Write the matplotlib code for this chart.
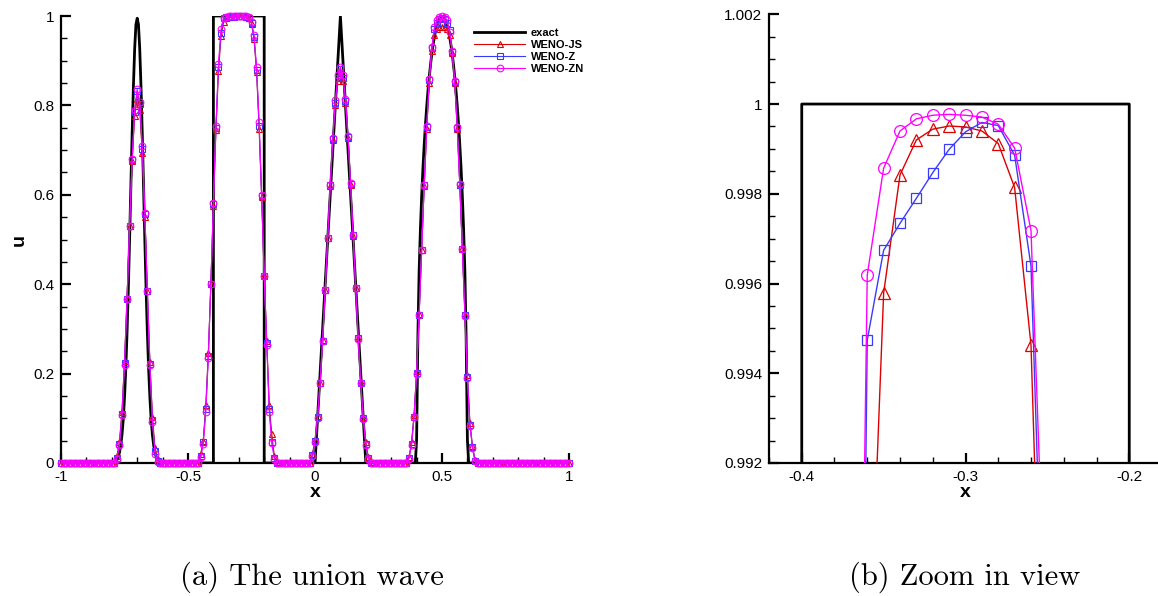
import numpy as np
import matplotlib
matplotlib.use('Agg')
import matplotlib.pyplot as plt
from matplotlib.ticker import MultipleLocator, FixedLocator, FixedFormatter

plt.rcParams['axes.unicode_minus'] = False
plt.rcParams['font.family'] = ['Liberation Sans', 'DejaVu Sans']

# ---------------- data ----------------
# computational grid (dx = 0.01)
x_grid = np.round(np.linspace(-1.0, 1.0, 201), 2)

# exact solution (sampled)
exact_x = ([-1.0] +
           [-0.8, -0.795, -0.79, -0.785, -0.78, -0.775, -0.77, -0.765, -0.76, -0.755,
            -0.75, -0.745, -0.74, -0.735, -0.73, -0.725, -0.72, -0.715, -0.71, -0.705,
            -0.7, -0.695, -0.69, -0.685, -0.68, -0.675, -0.67, -0.665, -0.66, -0.655,
            -0.65, -0.645, -0.64, -0.635, -0.63, -0.625, -0.62, -0.615, -0.61, -0.605, -0.6] +
           [-0.4, -0.4, -0.2, -0.2, 0.0, 0.1, 0.2] +
           [0.395, 0.4, 0.405, 0.41, 0.415, 0.42, 0.425, 0.43, 0.435, 0.44, 0.445, 0.45,
            0.455, 0.46, 0.465, 0.47, 0.475, 0.48, 0.485, 0.49, 0.495, 0.5, 0.505, 0.51,
            0.515, 0.52, 0.525, 0.53, 0.535, 0.54, 0.545, 0.55, 0.555, 0.56, 0.565, 0.57,
            0.575, 0.58, 0.585, 0.59, 0.595, 0.6, 0.605] +
           [1.0])
exact_u = ([0.0] +
           [0.0005, 0.001, 0.0019, 0.0038, 0.0072, 0.013, 0.023, 0.039, 0.0625, 0.097,
            0.146, 0.210, 0.292, 0.389, 0.5, 0.618, 0.735, 0.841, 0.926, 0.981,
            0.995, 0.981, 0.926, 0.841, 0.735, 0.618, 0.5, 0.389, 0.292, 0.210,
            0.146, 0.097, 0.0625, 0.039, 0.023, 0.013, 0.0072, 0.0038, 0.0019, 0.001, 0.0005] +
           [0.0, 1.0, 1.0, 0.0, 0.0, 1.0, 0.0] +
           [0.0, 0.052, 0.281, 0.430, 0.524, 0.598, 0.660, 0.713, 0.759, 0.799, 0.834, 0.865,
            0.892, 0.916, 0.936, 0.953, 0.968, 0.979, 0.988, 0.995, 0.998, 0.9996, 0.998, 0.995,
            0.988, 0.979, 0.968, 0.953, 0.936, 0.916, 0.892, 0.865, 0.834, 0.799, 0.759, 0.713,
            0.660, 0.598, 0.524, 0.430, 0.281, 0.052, 0.0] +
           [0.0])

# WENO-ZN
zn_gauss = [0.010, 0.040, 0.107, 0.219, 0.366, 0.530, 0.679, 0.790, 0.836, 0.808,
            0.709, 0.560, 0.384, 0.219, 0.092, 0.021, 0.003]
zn_square = [0.013, 0.043, 0.114, 0.235, 0.401, 0.582, 0.755, 0.893, 0.970, 0.99619,
             0.99857, 0.99940, 0.99967, 0.99975, 0.99977, 0.99975, 0.99971, 0.99955, 0.99902, 0.99718,
             0.987, 0.957, 0.886, 0.763, 0.599, 0.418, 0.264, 0.114, 0.044, 0.010, 0.001]
zn_tri = [0.016, 0.047, 0.101, 0.178, 0.274, 0.386, 0.504, 0.623, 0.727, 0.811, 0.867, 0.887,
          0.867, 0.815, 0.731, 0.626, 0.510, 0.392, 0.278, 0.179, 0.099, 0.041, 0.010, 0.001]
zn_ell = [0.010, 0.040, 0.102, 0.200, 0.331, 0.476, 0.623, 0.754, 0.860, 0.930, 0.975, 0.992,
          0.998, 1.000, 0.998, 0.990, 0.965, 0.922, 0.855, 0.751, 0.624, 0.478, 0.328, 0.190,
          0.083, 0.034, 0.004]

# WENO-JS
js_gauss = [0.015, 0.047, 0.114, 0.228, 0.370, 0.530, 0.675, 0.776, 0.815, 0.790,
            0.693, 0.550, 0.384, 0.225, 0.103, 0.034, 0.008]
js_square = [0.020, 0.050, 0.129, 0.245, 0.400, 0.575, 0.745, 0.876, 0.955, 0.9863,
             0.99578, 0.99842, 0.99920, 0.99944, 0.99951, 0.99949, 0.99940, 0.99912, 0.99814, 0.99463,
             0.9827, 0.949, 0.875, 0.748, 0.594, 0.420, 0.273, 0.129, 0.064, 0.015, 0.002]
js_tri = [0.020, 0.052, 0.105, 0.180, 0.275, 0.386, 0.504, 0.620, 0.722, 0.800, 0.855, 0.872,
          0.855, 0.805, 0.726, 0.623, 0.508, 0.392, 0.280, 0.182, 0.104, 0.046, 0.013, 0.002]
js_ell = [0.013, 0.046, 0.108, 0.205, 0.333, 0.476, 0.620, 0.748, 0.850, 0.922, 0.958, 0.972,
          0.975, 0.976, 0.975, 0.972, 0.958, 0.918, 0.850, 0.748, 0.622, 0.480, 0.332, 0.196,
          0.090, 0.038, 0.006]

# WENO-Z
z_gauss = [0.012, 0.043, 0.110, 0.223, 0.368, 0.530, 0.678, 0.786, 0.833, 0.804,
           0.703, 0.556, 0.384, 0.222, 0.097, 0.026, 0.005]
z_square = [0.015, 0.047, 0.120, 0.240, 0.400, 0.580, 0.750, 0.885, 0.963, 0.99474,
            0.99674, 0.99734, 0.99790, 0.99847, 0.99899, 0.99938, 0.99959, 0.99952, 0.99886, 0.99639,
            0.985, 0.952, 0.880, 0.755, 0.597, 0.418, 0.268, 0.120, 0.048, 0.012, 0.001]
z_tri = [0.018, 0.049, 0.103, 0.179, 0.274, 0.386, 0.504, 0.622, 0.725, 0.806, 0.862, 0.881,
         0.862, 0.810, 0.729, 0.625, 0.509, 0.392, 0.279, 0.180, 0.101, 0.043, 0.011, 0.001]
z_ell = [0.011, 0.042, 0.104, 0.202, 0.332, 0.476, 0.622, 0.752, 0.856, 0.928, 0.970, 0.985,
         0.993, 0.995, 0.993, 0.985, 0.968, 0.920, 0.853, 0.750, 0.623, 0.479, 0.330, 0.193,
         0.086, 0.036, 0.005]

u_zn = [0.0] * 22 + zn_gauss + [0.0] * 16 + zn_square + [0.0] * 13 + zn_tri + [0.0] * 14 + zn_ell + [0.0] * 37
u_js = [0.0] * 22 + js_gauss + [0.0] * 16 + js_square + [0.0] * 13 + js_tri + [0.0] * 14 + js_ell + [0.0] * 37
u_z = [0.0] * 22 + z_gauss + [0.0] * 16 + z_square + [0.0] * 13 + z_tri + [0.0] * 14 + z_ell + [0.0] * 37

labels = ['exact', 'WENO-JS', 'WENO-Z', 'WENO-ZN']
c_js, c_z, c_zn = '#dd0000', '#3a3aff', '#ff00ff'

# ---------------- figure ----------------
W, H = 1158, 596
fig = plt.figure(figsize=(W / 100, H / 100), dpi=100)

def frac_axes(x0, y_top, x1, y_bot):
    return fig.add_axes([x0 / W, 1 - y_bot / H, (x1 - x0) / W, (y_bot - y_top) / H])

def style(ax):
    for s in ['top', 'right']:
        ax.spines[s].set_visible(False)
    for s in ['left', 'bottom']:
        ax.spines[s].set_linewidth(1.6)
    ax.tick_params(which='major', direction='in', length=7.5, width=1.6, labelsize=11, pad=5)
    ax.tick_params(which='minor', direction='in', length=4.5, width=1.0)

# left panel
ax1 = frac_axes(61, 16, 569, 463)
ax1.plot(exact_x, exact_u, color='black', lw=2.0, label=labels[0], zorder=2)
ax1.plot(x_grid, u_js, color=c_js, lw=0.8, marker='^', ms=4.5, mfc='none', mew=0.8,
         label=labels[1], zorder=3, clip_on=False)
ax1.plot(x_grid, u_z, color=c_z, lw=0.8, marker='s', ms=4.0, mfc='none', mew=0.8,
         label=labels[2], zorder=4, clip_on=False)
ax1.plot(x_grid, u_zn, color=c_zn, lw=0.8, marker='o', ms=4.8, mfc='none', mew=0.8,
         label=labels[3], zorder=5, clip_on=False)
ax1.set_xlim(-1, 1)
ax1.set_ylim(0, 1)
ax1.xaxis.set_major_locator(FixedLocator([-1, -0.5, 0, 0.5, 1]))
ax1.xaxis.set_major_formatter(FixedFormatter(['-1', '-0.5', '0', '0.5', '1']))
ax1.xaxis.set_minor_locator(MultipleLocator(0.1))
ax1.yaxis.set_major_locator(FixedLocator([0, 0.2, 0.4, 0.6, 0.8, 1]))
ax1.yaxis.set_major_formatter(FixedFormatter(['0', '0.2', '0.4', '0.6', '0.8', '1']))
ax1.yaxis.set_minor_locator(MultipleLocator(0.05))
style(ax1)
ax1.set_xlabel('x', fontsize=14, fontweight='bold', labelpad=0)
ax1.set_ylabel('u', fontsize=14, fontweight='bold', labelpad=4)
leg = ax1.legend(loc='upper left', bbox_to_anchor=(474 / W, 1 - 28 / H), bbox_transform=fig.transFigure,
                 frameon=False, prop={'size': 8, 'weight': 'bold'}, handlelength=4.6,
                 handletextpad=0.5, labelspacing=0.18, borderpad=0, borderaxespad=0, numpoints=1)

# right panel
ax2 = frac_axes(769, 14.3, 1162, 463)
ax2.plot(exact_x, exact_u, color='black', lw=2.0, zorder=2)
ax2.plot(x_grid, u_js, color=c_js, lw=1.0, marker='^', ms=8.5, mfc='none', mew=0.9, zorder=3)
ax2.plot(x_grid, u_z, color=c_z, lw=1.0, marker='s', ms=7.2, mfc='none', mew=0.9, zorder=4)
ax2.plot(x_grid, u_zn, color=c_zn, lw=1.0, marker='o', ms=8.5, mfc='none', mew=0.9, zorder=5)
ax2.set_xlim(-0.42, -0.18)
ax2.set_ylim(0.992, 1.002)
ax2.xaxis.set_major_locator(FixedLocator([-0.4, -0.3, -0.2]))
ax2.xaxis.set_major_formatter(FixedFormatter(['-0.4', '-0.3', '-0.2']))
ax2.xaxis.set_minor_locator(MultipleLocator(0.02))
ax2.yaxis.set_major_locator(FixedLocator([0.992, 0.994, 0.996, 0.998, 1.0, 1.002]))
ax2.yaxis.set_major_formatter(FixedFormatter(['0.992', '0.994', '0.996', '0.998', '1', '1.002']))
ax2.yaxis.set_minor_locator(MultipleLocator(0.0005))
style(ax2)
ax2.set_xlabel('x', fontsize=14, fontweight='bold', labelpad=0)

# captions
fig.text(312 / W, 1 - 577 / H, '(a) The union wave', ha='center', va='center',
         family='cmr10', fontsize=22)
fig.text(965 / W, 1 - 577 / H, '(b) Zoom in view', ha='center', va='center',
         family='cmr10', fontsize=22)

fig.savefig('out.png', dpi=100)
